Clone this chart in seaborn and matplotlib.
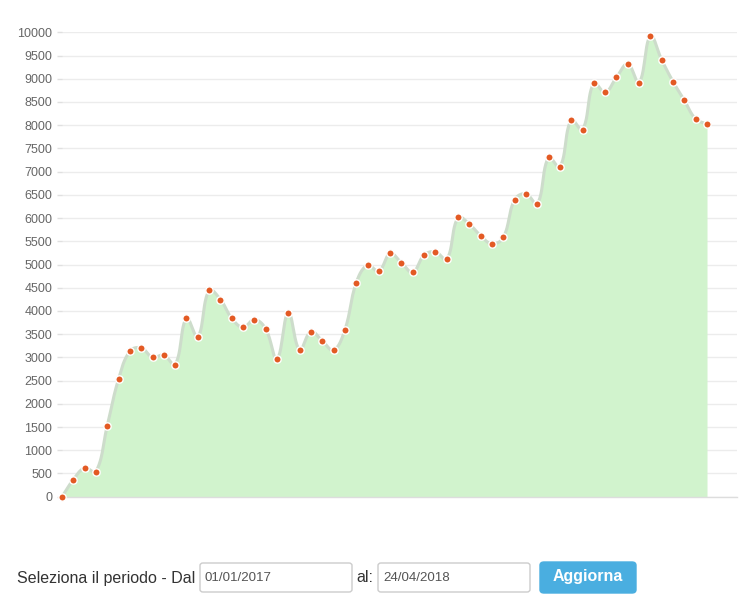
import numpy as np
import pandas as pd
import matplotlib
matplotlib.use("Agg")
import matplotlib.pyplot as plt
import seaborn as sns
from matplotlib.patches import FancyBboxPatch
from matplotlib import font_manager

# ---- data ----
values = [0, 366, 618, 539, 1530, 2536, 3133, 3204, 3003, 3046,
          2845, 3844, 3441, 4447, 4246, 3844, 3645, 3815, 3614, 2968,
          3966, 3162, 3556, 3355, 3155, 3593, 4605, 4986, 4856, 5237,
          5036, 4835, 5201, 5273, 5108, 6013, 5869, 5618, 5446, 5582,
          6394, 6523, 6301, 7306, 7098, 8112, 7903, 8909, 8707, 9030,
          9318, 8916, 9922, 9404, 8937, 8534, 8133, 8026]
y_ticks = list(range(0, 10001, 500))
label_text = "Seleziona il periodo - Dal"
date_from = "01/01/2017"
date_to = "24/04/2018"
to_label = "al:"
button_label = "Aggiorna"

W, H = 744, 616
sns.set_theme(style="white")
plt.rcParams['font.family'] = ['Liberation Sans', 'DejaVu Sans']

names = {f.name for f in font_manager.fontManager.ttflist}
narrow = 'Liberation Sans Narrow' if 'Liberation Sans Narrow' in names else 'Liberation Sans'

fig = plt.figure(figsize=(W / 100, H / 100), dpi=100)
ax_left, ax_right, ax_top, ax_bot = 62, 737, 32.3, 496.7
ax = fig.add_axes([ax_left / W, 1 - ax_bot / H, (ax_right - ax_left) / W, (ax_bot - ax_top) / H])

n = len(values)
idx = np.arange(n)
df = pd.DataFrame({"idx": idx, "value": values})

step_px = (707 - 62) / (n - 1)
xmax = (ax_right - ax_left) / step_px
ymax = 10000
ppu = (ax_bot - ax_top) / ymax

# Chart.js-like bezier smoothing (tension 0.4) computed in pixel space
P = np.column_stack([idx * step_px, np.array(values, float) * ppu])
t = 0.4
cp_prev = np.zeros_like(P)
cp_next = np.zeros_like(P)
for i in range(n):
    prv = P[i - 1] if i > 0 else P[i]
    nxt = P[i + 1] if i < n - 1 else P[i]
    d01 = np.hypot(*(P[i] - prv))
    d12 = np.hypot(*(nxt - P[i]))
    s = d01 + d12
    s01 = d01 / s if s else 0
    s12 = d12 / s if s else 0
    cp_prev[i] = P[i] - t * s01 * (nxt - prv)
    cp_next[i] = P[i] + t * s12 * (nxt - prv)
cp_prev[:, 1] = np.clip(cp_prev[:, 1], 0, ymax * ppu)
cp_next[:, 1] = np.clip(cp_next[:, 1], 0, ymax * ppu)
tt = np.linspace(0, 1, 25)[:, None]
segs = []
for i in range(n - 1):
    p0, p1, p2, p3 = P[i], cp_next[i], cp_prev[i + 1], P[i + 1]
    b = ((1 - tt) ** 3) * p0 + 3 * ((1 - tt) ** 2) * tt * p1 + 3 * (1 - tt) * tt ** 2 * p2 + tt ** 3 * p3
    segs.append(b if i == 0 else b[1:])
curve = np.vstack(segs)
smooth = pd.DataFrame({"idx": curve[:, 0] / step_px, "value": curve[:, 1] / ppu})

ax.fill_between(smooth["idx"], smooth["value"], 0, color="#d1f3cd", lw=0, zorder=1)
sns.lineplot(data=smooth, x="idx", y="value", sort=False, estimator=None, ax=ax,
             color="#cddccb", lw=2.2, zorder=2)
sns.scatterplot(data=df, x="idx", y="value", ax=ax, color="#e35a24", s=28,
                edgecolor="white", linewidth=1.0, zorder=4, clip_on=False)

ax.set_xlim(0, xmax)
ax.set_ylim(0, ymax)
ax.set_yticks(y_ticks)
ax.set_yticklabels([str(v) for v in y_ticks])
ax.set_xticks([])
ax.set_xlabel("")
ax.set_ylabel("")
ax.grid(axis="y", color="#ececec", lw=1)
ax.set_axisbelow(True)
for s in ["top", "right", "left"]:
    ax.spines[s].set_visible(False)
ax.spines["bottom"].set_color("#dddddd")
ax.spines["bottom"].set_linewidth(1)
ax.tick_params(axis="y", left=True, length=3.6, width=1, color="#e0e0e0",
               pad=3.4, labelsize=9, labelcolor="#666666")
ax.set_facecolor("none")

# ---- bottom form controls ----
def fx(x):
    return x / W

def fy(y):
    return 1 - y / H

def box(x0, y0, x1, y1, fc, ec, r):
    p = FancyBboxPatch((fx(x0), fy(y1)), fx(x1) - fx(x0), fy(y0) - fy(y1),
                       boxstyle=f"round,pad=0,rounding_size={r / W}",
                       transform=fig.transFigure, facecolor=fc, edgecolor=ec, lw=1)
    fig.add_artist(p)

renderer = fig.canvas.get_renderer()

def fit_text(x, y, s, width_px, ha="left", **kw):
    txt = fig.text(fx(x), fy(y), s, ha=ha, va="center", fontsize=12, family=narrow, **kw)
    w = txt.get_window_extent(renderer).width
    txt.set_fontsize(12 * width_px / w)
    return txt

fit_text(17, 578, label_text, 178, color="#333333")
box(200, 563, 352, 592, "white", "#cccccc", 3)
fit_text(205, 578, date_from, 67, color="#555555")
fit_text(356, 578, to_label, 17, color="#333333")
box(378, 563, 530, 592, "white", "#cccccc", 3)
fit_text(383, 578, date_to, 67, color="#555555")
box(540, 562, 636, 593, "#4aaee0", "#4aaee0", 4)
fit_text(588, 577, button_label, 70, ha="center", color="white", fontweight="bold")

fig.savefig("out.png", dpi=100, facecolor="white")
